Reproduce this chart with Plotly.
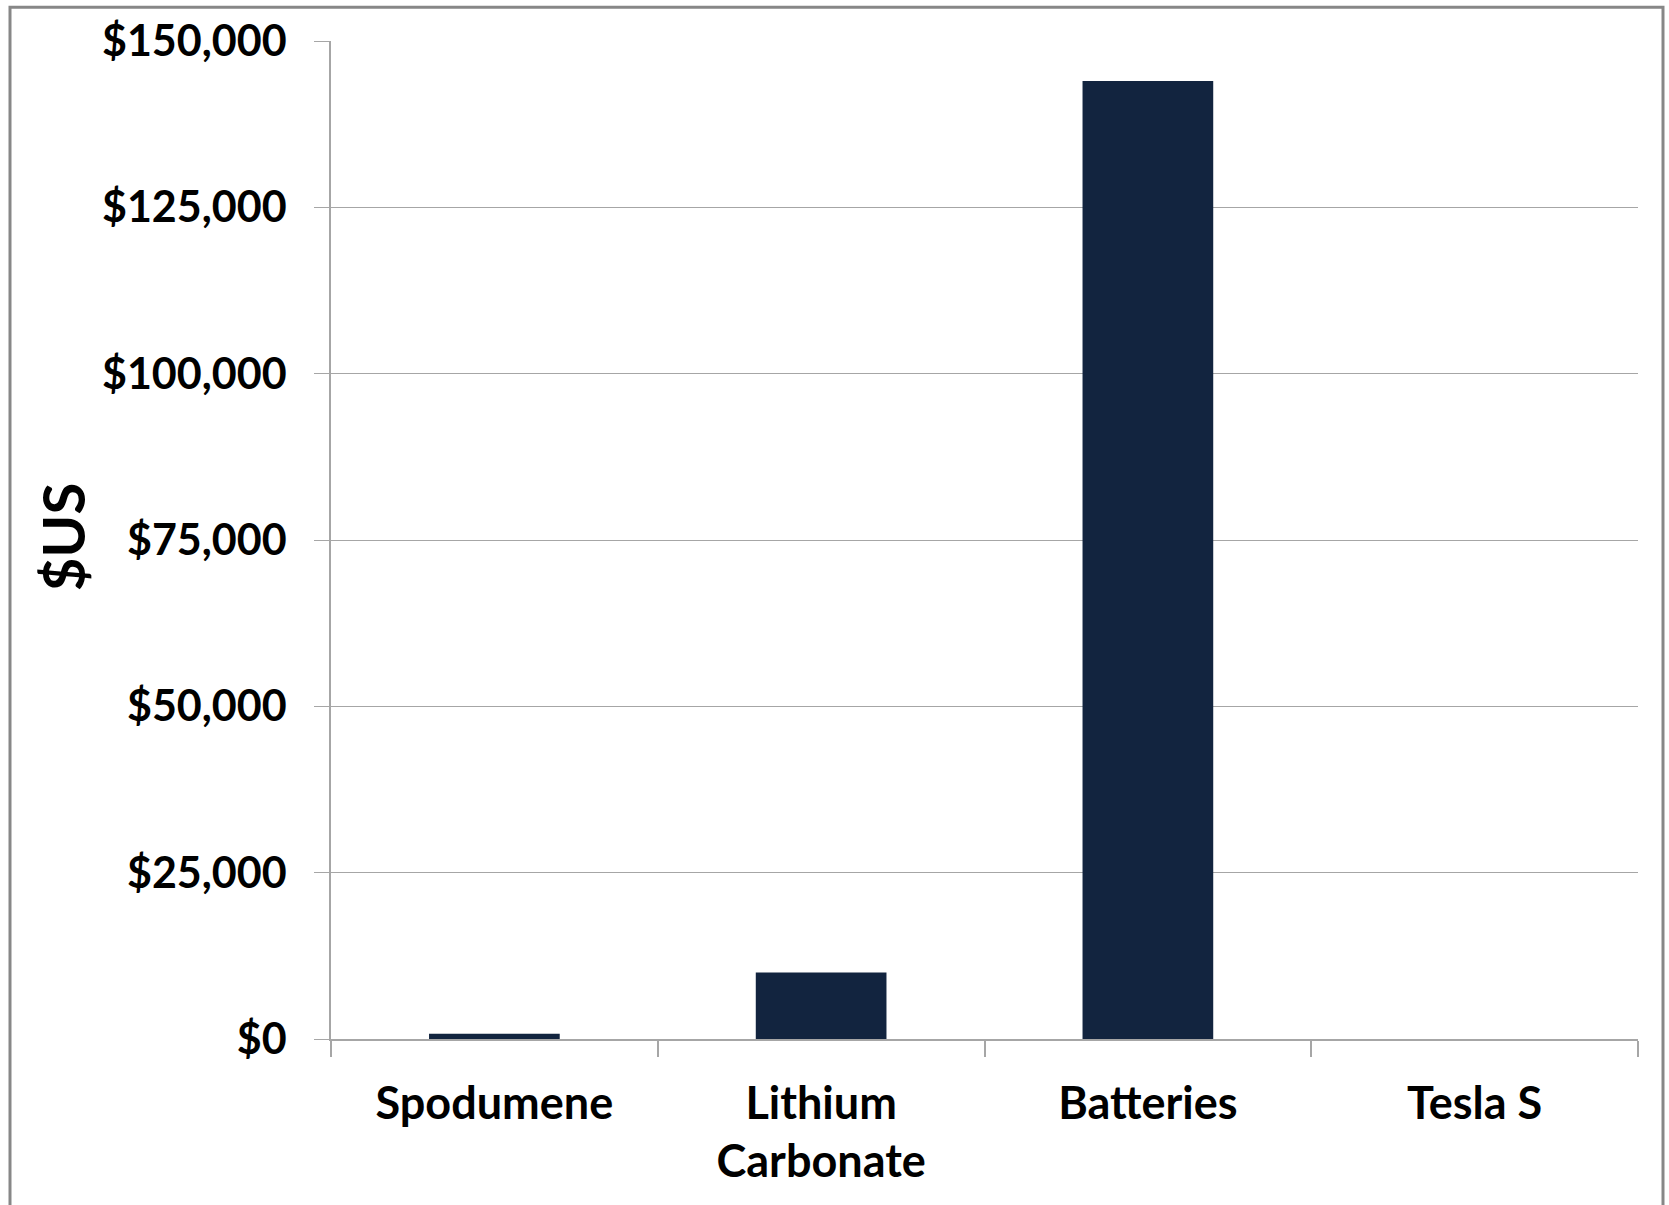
import plotly.graph_objects as go

categories = ["Spodumene", "Lithium<br>Carbonate", "Batteries", "Tesla S"]
values_usd = [800, 10000, 144000, 0]
y_tick_values = [0, 25000, 50000, 75000, 100000, 125000, 150000]
y_title = "$US"

W, H = 1669, 1205
L, R, T, B = 331, 1638, 40.7, 1038.7
pw, ph = R - L, B - T

fig = go.Figure(
    go.Bar(
        x=categories,
        y=values_usd,
        width=0.4,
        marker=dict(color="#12243f", line=dict(width=0)),
    )
)

family = "Lato, Carlito, Calibri, sans-serif"
yfont = dict(family=family, size=43, color="#000000", weight="bold")
xfont = dict(family=family, size=45, color="#000000", weight="bold")

fig.update_layout(
    width=W,
    height=H,
    margin=dict(l=L, r=W - R, t=T, b=H - B, autoexpand=False),
    paper_bgcolor="white",
    plot_bgcolor="white",
    showlegend=False,
    xaxis=dict(
        type="category",
        tickson="boundaries",
        ticks="outside",
        ticklen=16,
        tickwidth=1.5,
        tickcolor="#a6a6a6",
        showline=True,
        linecolor="#a6a6a6",
        linewidth=1.5,
        showgrid=False,
        tickfont=xfont,
        ticklabelstandoff=24,
        automargin=False,
        range=[-0.5, 3.5],
    ),
    yaxis=dict(
        range=[0, 150000],
        tickvals=y_tick_values,
        tickformat="$,.0f",
        ticks="outside",
        ticklen=15,
        tickwidth=1.3,
        tickcolor="#a6a6a6",
        showline=True,
        linecolor="#a6a6a6",
        linewidth=1.5,
        showgrid=True,
        gridcolor="#a6a6a6",
        gridwidth=1.3,
        zeroline=False,
        tickfont=yfont,
        ticklabelstandoff=19,
        automargin=False,
    ),
    annotations=[
        dict(
            text=y_title,
            xref="paper",
            yref="paper",
            x=(62 - L) / pw,
            y=(B - 537) / ph,
            xanchor="center",
            yanchor="middle",
            textangle=-90,
            showarrow=False,
            font=dict(family=family, size=58, color="#000000", weight="bold"),
        )
    ],
    shapes=[
        dict(
            type="rect",
            xref="paper",
            yref="paper",
            x0=(10 - L) / pw,
            x1=(1663 - L) / pw,
            y0=(B - 1230) / ph,
            y1=(B - 7) / ph,
            line=dict(color="#878787", width=3),
            fillcolor="rgba(0,0,0,0)",
            layer="below",
        )
    ],
)

fig.write_html("out.html")
